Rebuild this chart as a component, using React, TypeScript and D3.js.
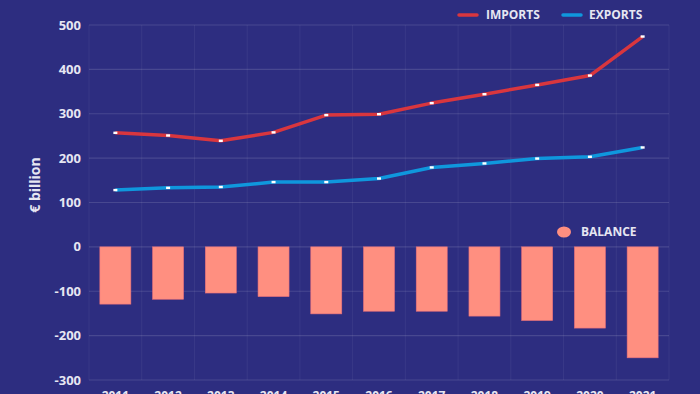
import React from "react";
import * as d3 from "d3";

const years = ["2011","2012","2013","2014","2015","2016","2017","2018","2019","2020","2021"];
const imports = [257, 251, 239, 258, 297, 299, 324, 344, 365, 386, 474];
const exports = [128, 133, 135, 146, 146, 154, 179, 188, 199, 203, 224];
const balance = [-129, -118, -104, -112, -151, -145, -145, -156, -166, -183, -250];
const yTicks = [500, 400, 300, 200, 100, 0, -100, -200, -300];

const W = 700, H = 394;
const m = { left: 89, right: 669, top: 25, bottom: 380 };
const BG = "#2d2d80";
const RED = "#d9363e";
const BLUE = "#0f97dd";
const SALMON = "#ff8f80";
const TXT = "#e6e6f2";
const FONT = "'Open Sans', 'Noto Sans', sans-serif";

export default function App() {
  const x = d3.scaleBand<string>().domain(years).range([m.left, m.right]).paddingInner(0.4).paddingOuter(0.2);
  const xb = d3.scaleBand<string>().domain(years).range([m.left, m.right]);
  const y = d3.scaleLinear().domain([-300, 500]).range([m.bottom, m.top]);
  const cx = (d: string) => (xb(d) as number) + xb.bandwidth() / 2;
  const line = d3.line<number>().x((_, i) => cx(years[i])).y((v) => y(v));
  const grid = "rgba(255,255,255,0.13)";

  return (
    <svg width={W} height={H} style={{ position: "absolute", left: 0, top: 0, display: "block" }} fontFamily={FONT}>
      <rect width={W} height={H} fill={BG} />
      {/* vertical grid */}
      {years.map((d) => (
        <line key={"v" + d} x1={xb(d)} x2={xb(d)} y1={m.top} y2={m.bottom} stroke="rgba(255,255,255,0.06)" />
      ))}
      <line x1={m.right} x2={m.right} y1={m.top} y2={m.bottom} stroke="rgba(255,255,255,0.06)" />
      {/* horizontal grid */}
      {yTicks.map((t) => (
        <g key={"h" + t}>
          <line x1={m.left} x2={m.right} y1={y(t)} y2={y(t)} stroke={grid} strokeWidth={1.2} />
          <text x={81} y={y(t)} dy="0.35em" textAnchor="end" fill={TXT} fontSize={13} fontWeight={700}>{t}</text>
        </g>
      ))}
      {/* bars */}
      {balance.map((v, i) => (
        <rect key={"b" + i} x={cx(years[i]) - 15.5} width={31} y={y(0)} height={y(v) - y(0)} fill={SALMON} stroke="#e8707a" strokeWidth={0.6} />
      ))}
      {/* lines */}
      <path d={line(imports) || ""} fill="none" stroke={RED} strokeWidth={3.5} strokeLinejoin="round" />
      <path d={line(exports) || ""} fill="none" stroke={BLUE} strokeWidth={3.5} strokeLinejoin="round" />
      {[imports, exports].map((s, si) =>
        s.map((v, i) => (
          <rect key={"p" + si + i} x={cx(years[i]) - 2} y={y(v) - 1.2} width={4} height={2.4} fill="#ffffff" />
        ))
      )}
      {/* x labels */}
      {years.map((d) => (
        <text key={"x" + d} x={cx(d)} y={400} textAnchor="middle" fill={TXT} fontSize={12} fontWeight={700}>{d}</text>
      ))}
      {/* y title */}
      <text transform={`translate(40,185) rotate(-90)`} textAnchor="middle" fill={TXT} fontSize={14} fontWeight={700}>€ billion</text>
      {/* legend */}
      <line x1={459} x2={477} y1={15} y2={15} stroke={RED} strokeWidth={3.5} strokeLinecap="round" />
      <text x={486} y={15} dy="0.35em" fill={TXT} fontSize={12} fontWeight={700}>IMPORTS</text>
      <line x1={563} x2={581} y1={15} y2={15} stroke={BLUE} strokeWidth={3.5} strokeLinecap="round" />
      <text x={589} y={15} dy="0.35em" fill={TXT} fontSize={12} fontWeight={700}>EXPORTS</text>
      <ellipse cx={564} cy={232} rx={7} ry={5.5} fill={SALMON} />
      <text x={581} y={232} dy="0.35em" fill={TXT} fontSize={12} fontWeight={700}>BALANCE</text>
    </svg>
  );
}
